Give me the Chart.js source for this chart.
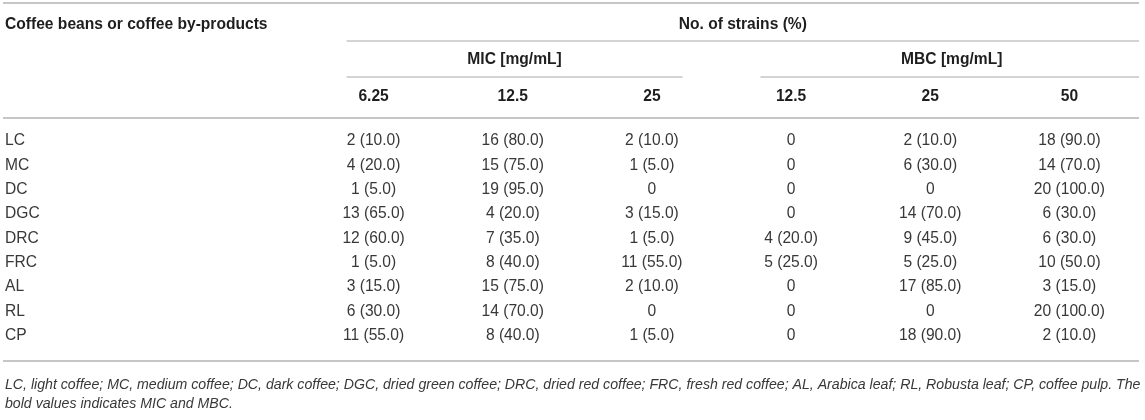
<!DOCTYPE html>
<html>
<head>
<meta charset="utf-8">
<script src="https://cdn.jsdelivr.net/npm/chart.js@4.4.1/dist/chart.umd.min.js"></script>
<style>
  html, body { margin: 0; padding: 0; background: #fff; }
  #wrap { position: relative; width: 1145px; height: 420px; }
</style>
</head>
<body>
<div id="wrap"><canvas id="table-chart"></canvas></div>
<script>
// Table content
const rowHead = 'Coffee beans or coffee by-products';
const spanHead = 'No. of strains (%)';
const groupHeads = ['MIC [mg/mL]', 'MBC [mg/mL]'];
const rows = ['LC', 'MC', 'DC', 'DGC', 'DRC', 'FRC', 'AL', 'RL', 'CP'];
const colKeys = ['MIC 6.25', 'MIC 12.5', 'MIC 25', 'MBC 12.5', 'MBC 25', 'MBC 50'];
const concHeads = ['6.25', '12.5', '25', '12.5', '25', '50'];

const mic625 = ['2 (10.0)', '4 (20.0)', '1 (5.0)', '13 (65.0)', '12 (60.0)', '1 (5.0)', '3 (15.0)', '6 (30.0)', '11 (55.0)'];
const mic125 = ['16 (80.0)', '15 (75.0)', '19 (95.0)', '4 (20.0)', '7 (35.0)', '8 (40.0)', '15 (75.0)', '14 (70.0)', '8 (40.0)'];
const mic25 = ['2 (10.0)', '1 (5.0)', '0', '3 (15.0)', '1 (5.0)', '11 (55.0)', '2 (10.0)', '0', '1 (5.0)'];
const mbc125 = ['0', '0', '0', '0', '4 (20.0)', '5 (25.0)', '0', '0', '0'];
const mbc25 = ['2 (10.0)', '6 (30.0)', '0', '14 (70.0)', '9 (45.0)', '5 (25.0)', '17 (85.0)', '0', '18 (90.0)'];
const mbc50 = ['18 (90.0)', '14 (70.0)', '20 (100.0)', '6 (30.0)', '6 (30.0)', '10 (50.0)', '3 (15.0)', '20 (100.0)', '2 (10.0)'];

const footLines = [
    'LC, light coffee; MC, medium coffee; DC, dark coffee; DGC, dried green coffee; DRC, dried red coffee; FRC, fresh red coffee; AL, Arabica leaf; RL, Robusta leaf; CP, coffee pulp. The',
    'bold values indicates MIC and MBC.'
];

const cells = [mic625, mic125, mic25, mbc125, mbc25, mbc50];

// look
const FONT = '"Liberation Sans", Arial, Helvetica, sans-serif';
const textColor = '#383838';
const headColor = '#1e1e1e';
const ruleColor = '#c6c6c6';

// draws the table text and rules on top of the (invisible) cell points
const tablePlugin = {
    id: 'tableText',
    afterDatasetsDraw(chart) {
        const ctx = chart.ctx;
        const xs = chart.scales.x;
        const area = chart.chartArea;
        const colW = xs.getPixelForValue(1) - xs.getPixelForValue(0);
        const split = xs.getPixelForValue(2) + colW / 2;
        const spanLeft = xs.getPixelForValue(0) - 27;

        ctx.save();

        function rule(x1, x2, y, w) {
            ctx.beginPath();
            ctx.strokeStyle = ruleColor;
            ctx.lineWidth = w;
            ctx.moveTo(x1, y);
            ctx.lineTo(x2, y);
            ctx.stroke();
        }

        // rules
        rule(3, area.right, 3, 2);
        rule(spanLeft, area.right, 41, 1.5);
        rule(spanLeft, split - 39, 77, 1.5);
        rule(split + 39, area.right, 77, 1.5);
        rule(3, area.right, 118, 2);
        rule(3, area.right, 361, 2);

        // header text
        ctx.fillStyle = headColor;
        ctx.font = 'bold 15.6px ' + FONT;
        ctx.textBaseline = 'middle';
        ctx.textAlign = 'left';
        ctx.fillText(rowHead, 5, 25);
        ctx.textAlign = 'center';
        ctx.fillText(spanHead, (spanLeft + area.right) / 2, 25);
        ctx.fillText(groupHeads[0], (spanLeft + split - 39) / 2, 60);
        ctx.fillText(groupHeads[1], (split + 39 + area.right) / 2 + 2, 60);
        concHeads.forEach(function (h, i) {
            ctx.fillText(h, xs.getPixelForValue(i), 97);
        });

        // body cells, placed at each point the library laid out
        ctx.font = '15.6px ' + FONT;
        ctx.fillStyle = textColor;
        chart.data.datasets.forEach(function (ds, di) {
            const meta = chart.getDatasetMeta(di);
            meta.data.forEach(function (pt, ri) {
                ctx.textAlign = 'center';
                ctx.fillText(cells[di][ri], pt.x, pt.y);
                if (di === 0) {
                    ctx.textAlign = 'left';
                    ctx.fillText(rows[ri], 5, pt.y);
                }
            });
        });

        // footnote
        ctx.font = 'italic 14.15px ' + FONT;
        ctx.textAlign = 'left';
        ctx.fillText(footLines[0], 5, 385);
        ctx.fillText(footLines[1], 5, 404);

        ctx.restore();
    }
};

const ctx = document.getElementById('table-chart').getContext('2d');
const tableChart = new Chart(ctx, {
    type: 'scatter',
    data: {
        datasets: cells.map(function (col, i) {
            return {
                label: colKeys[i],
                data: rows.map(function (r) { return { x: colKeys[i], y: r }; }),
                pointRadius: 0,
                pointHoverRadius: 0
            };
        })
    },
    options: {
        responsive: true,
        maintainAspectRatio: false,
        animation: false,
        events: [],
        layout: {
            padding: { left: 304, right: 6, top: 129, bottom: 72 }
        },
        scales: {
            x: { type: 'category', labels: colKeys, offset: true, display: false },
            y: { type: 'category', labels: rows, offset: true, display: false }
        },
        plugins: {
            legend: { display: false },
            tooltip: { enabled: false }
        }
    },
    plugins: [tablePlugin]
});
</script>
</body>
</html>
